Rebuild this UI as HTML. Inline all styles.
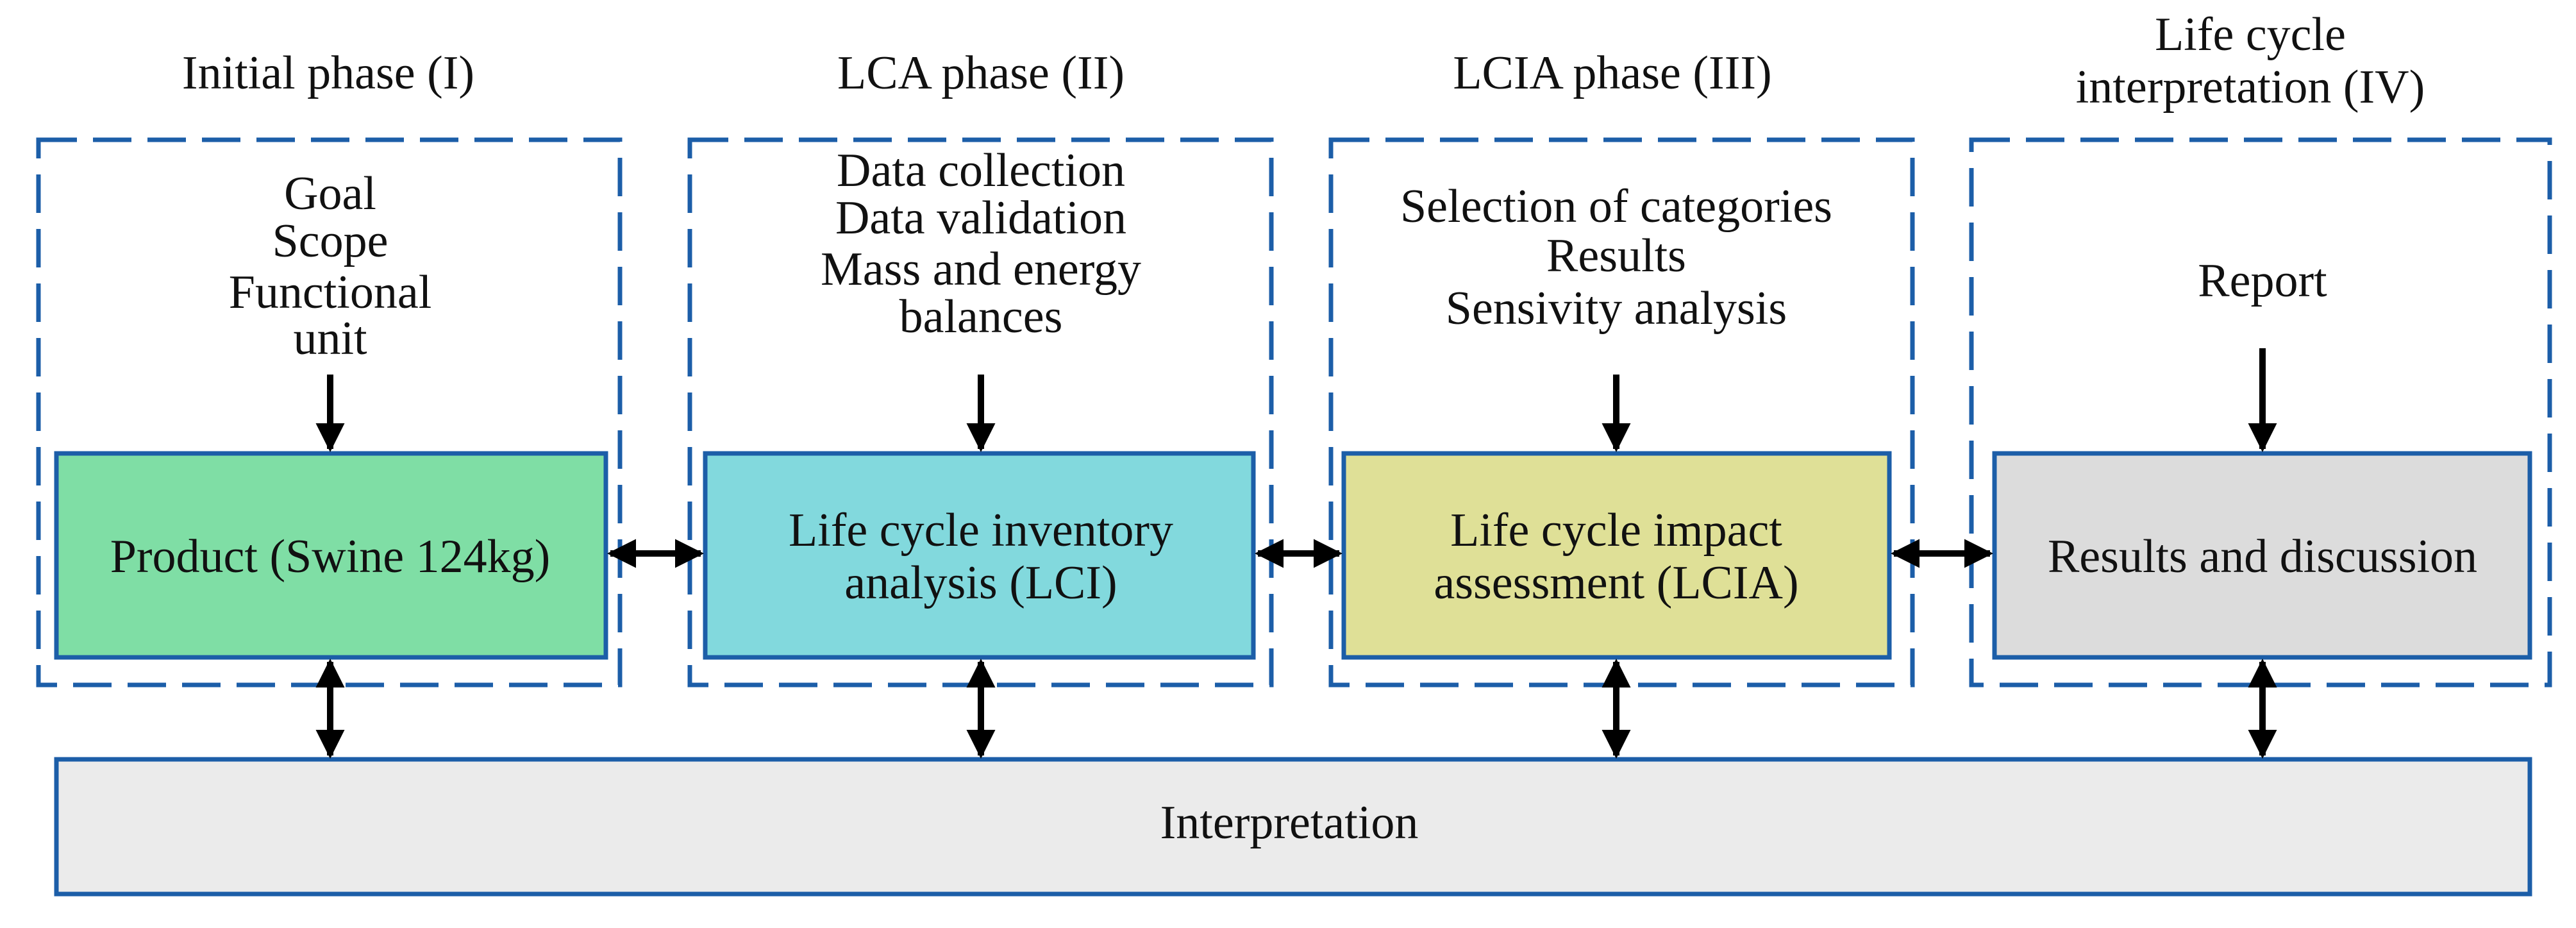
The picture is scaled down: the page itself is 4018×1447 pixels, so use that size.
<!DOCTYPE html>
<html><head><meta charset="utf-8"><style>
html,body{margin:0;padding:0;background:#fff;}
svg{display:block;}
text{font-family:"Liberation Serif",serif;font-size:74px;fill:#111;text-anchor:middle;}
</style></head><body>
<svg width="4018" height="1447" viewBox="0 0 4018 1447" xmlns="http://www.w3.org/2000/svg">
<defs>
<marker id="ah" markerWidth="4.5" markerHeight="4.5" refX="4" refY="2.25" orient="auto-start-reverse" markerUnits="strokeWidth">
<path d="M0,0 L4.5,2.25 L0,4.5 Z" fill="#000"/>
</marker>
</defs>
<!-- titles -->
<text x="512" y="138">Initial phase (I)</text>
<text x="1530" y="138">LCA phase (II)</text>
<text x="2515" y="138">LCIA phase (III)</text>
<text x="3510" y="78">Life cycle</text>
<text x="3510" y="160">interpretation (IV)</text>
<!-- dashed boxes -->
<g fill="none" stroke="#1c5ea8" stroke-width="7" stroke-dasharray="60 25">
<rect x="60" y="218" width="907" height="850"/>
<rect x="1076" y="218" width="907" height="850"/>
<rect x="2076" y="218" width="907" height="850"/>
<rect x="3075" y="218" width="902" height="850"/>
</g>
<!-- inner boxes -->
<g stroke="#1c5ea8" stroke-width="7">
<rect x="88" y="707" width="857" height="318" fill="#7fdea5"/>
<rect x="1100" y="707" width="855" height="318" fill="#82d9dd"/>
<rect x="2096" y="707" width="851" height="318" fill="#dfe097"/>
<rect x="3111" y="707" width="835" height="318" fill="#dcdcdc"/>
<rect x="88" y="1184" width="3858" height="210" fill="#ebebeb"/>
</g>
<!-- top texts -->
<text x="515" y="326">Goal</text>
<text x="515" y="400">Scope</text>
<text x="515" y="480">Functional</text>
<text x="515" y="552">unit</text>
<text x="1530" y="290">Data collection</text>
<text x="1530" y="364">Data validation</text>
<text x="1530" y="444">Mass and energy</text>
<text x="1530" y="518">balances</text>
<text x="2521" y="346">Selection of categories</text>
<text x="2521" y="423">Results</text>
<text x="2521" y="505">Sensivity analysis</text>
<text x="3529" y="462">Report</text>
<!-- box texts -->
<text x="515" y="892">Product (Swine 124kg)</text>
<text x="1530" y="851">Life cycle inventory</text>
<text x="1530" y="933">analysis (LCI)</text>
<text x="2521" y="851">Life cycle impact</text>
<text x="2521" y="933">assessment (LCIA)</text>
<text x="3529" y="892">Results and discussion</text>
<text x="2011" y="1307">Interpretation</text>
<!-- arrows -->
<g stroke="#000" stroke-width="10" fill="none">
<line x1="515" y1="584" x2="515" y2="700" marker-end="url(#ah)"/>
<line x1="1530" y1="584" x2="1530" y2="700" marker-end="url(#ah)"/>
<line x1="2521" y1="584" x2="2521" y2="700" marker-end="url(#ah)"/>
<line x1="3529" y1="543" x2="3529" y2="700" marker-end="url(#ah)"/>
<line x1="952" y1="863" x2="1093" y2="863" marker-start="url(#ah)" marker-end="url(#ah)"/>
<line x1="1962" y1="863" x2="2089" y2="863" marker-start="url(#ah)" marker-end="url(#ah)"/>
<line x1="2954" y1="863" x2="3104" y2="863" marker-start="url(#ah)" marker-end="url(#ah)"/>
<line x1="515" y1="1032" x2="515" y2="1178" marker-start="url(#ah)" marker-end="url(#ah)"/>
<line x1="1530" y1="1032" x2="1530" y2="1178" marker-start="url(#ah)" marker-end="url(#ah)"/>
<line x1="2521" y1="1032" x2="2521" y2="1178" marker-start="url(#ah)" marker-end="url(#ah)"/>
<line x1="3529" y1="1032" x2="3529" y2="1178" marker-start="url(#ah)" marker-end="url(#ah)"/>
</g>
</svg>
</body></html>
